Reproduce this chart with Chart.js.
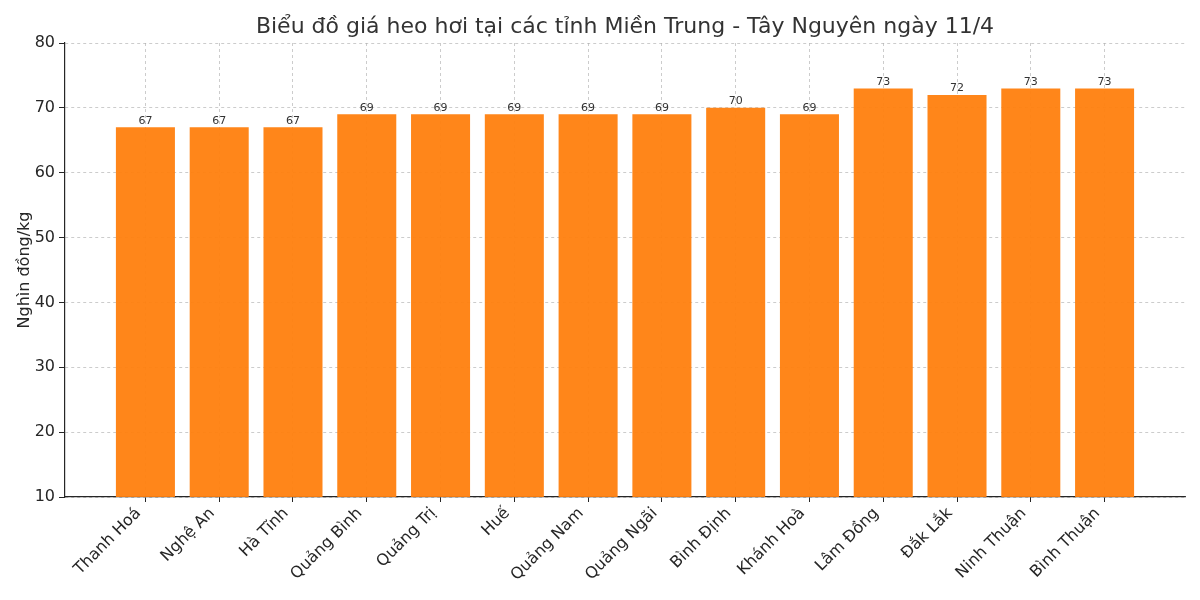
<!DOCTYPE html>
<html>
<head>
<meta charset="utf-8">
<script src="https://cdn.jsdelivr.net/npm/chart.js@4.4.0/dist/chart.umd.min.js"></script>
<style>
  html, body { margin: 0; padding: 0; background: #fff; }
</style>
</head>
<body>
<canvas id="priceChart" width="1200" height="600"></canvas>
<script>
// Chart data
const provinces = ['Thanh Hoá', 'Nghệ An', 'Hà Tĩnh', 'Quảng Bình', 'Quảng Trị', 'Huế', 'Quảng Nam',
  'Quảng Ngãi', 'Bình Định', 'Khánh Hoà', 'Lâm Đồng', 'Đắk Lắk', 'Ninh Thuận', 'Bình Thuận'];
const prices = [67, 67, 67, 69, 69, 69, 69, 69, 70, 69, 73, 72, 73, 73];
const yTicks = [10, 20, 30, 40, 50, 60, 70, 80];
const chartTitle = 'Biểu đồ giá heo hơi tại các tỉnh Miền Trung - Tây Nguyên ngày 11/4';

const FONT = '"DejaVu Sans", sans-serif';
const TEXT = '#262626';
const GRID = 'rgba(175, 175, 175, 0.8)';

// Draw value above each bar
const valueLabels = {
  id: 'valueLabels',
  afterDatasetsDraw(chart) {
    const ctx = chart.ctx;
    const meta = chart.getDatasetMeta(0);
    ctx.save();
    ctx.font = '11px ' + FONT;
    ctx.fillStyle = '#333';
    ctx.textAlign = 'center';
    ctx.textBaseline = 'bottom';
    meta.data.forEach((bar, i) => {
      ctx.fillText(prices[i], bar.x, bar.y - 1);
    });
    ctx.restore();
  }
};

// Title centered over the plot area (like matplotlib)
const plotTitle = {
  id: 'plotTitle',
  afterDraw(chart) {
    const { ctx, chartArea } = chart;
    ctx.save();
    ctx.font = '22px ' + FONT;
    ctx.fillStyle = '#333';
    ctx.textAlign = 'center';
    ctx.textBaseline = 'middle';
    ctx.fillText(chartTitle, (chartArea.left + chartArea.right) / 2, 27);
    ctx.restore();
  }
};

const ctx = document.getElementById('priceChart').getContext('2d');
const priceChart = new Chart(ctx, {
  type: 'bar',
  data: {
    datasets: [{
      data: prices.map((v, i) => ({ x: i, y: v })),
      backgroundColor: 'rgba(255, 127, 14, 0.95)',
      borderWidth: 0,
      barPercentage: 0.8,
      categoryPercentage: 1
    }]
  },
  plugins: [valueLabels, plotTitle],
  options: {
    responsive: false,
    animation: false,
    layout: { padding: { left: 0, right: 15, top: 43, bottom: 0 } },
    plugins: {
      legend: { display: false },
      tooltip: { enabled: false },
      title: { display: false }
    },
    scales: {
      x: {
        type: 'linear',
        min: -1.09,
        max: 14.09,
        offset: false,
        afterBuildTicks: (axis) => {
          axis.ticks = provinces.map((_, i) => ({ value: i }));
        },
        afterFit: (axis) => { axis.height = 103; },
        ticks: {
          autoSkip: false,
          minRotation: 45,
          maxRotation: 45,
          color: TEXT,
          padding: 2,
          labelOffset: -7,
          font: { family: FONT, size: 16 },
          callback: (value) => provinces[value]
        },
        grid: {
          offset: false,
          color: GRID,
          lineWidth: 0.8,
          tickColor: TEXT,
          tickLength: 5,
          tickBorderDash: [],
          tickWidth: 1
        },
        border: { color: TEXT, width: 1.2, dash: [3, 3] }
      },
      y: {
        min: 10,
        max: 80,
        afterBuildTicks: (axis) => {
          axis.ticks = yTicks.map((v) => ({ value: v }));
        },
        afterFit: (axis) => { axis.width = 65; },
        ticks: {
          color: TEXT,
          padding: 4,
          font: { family: FONT, size: 16 }
        },
        title: {
          display: true,
          text: 'Nghìn đồng/kg',
          color: TEXT,
          font: { family: FONT, size: 16 },
          padding: { top: 15, bottom: 0 }
        },
        grid: {
          color: GRID,
          lineWidth: 0.8,
          tickColor: TEXT,
          tickLength: 6,
          tickBorderDash: [],
          tickWidth: 1
        },
        border: { color: TEXT, width: 1.2, dash: [3, 3] }
      }
    }
  }
});
</script>
</body>
</html>
